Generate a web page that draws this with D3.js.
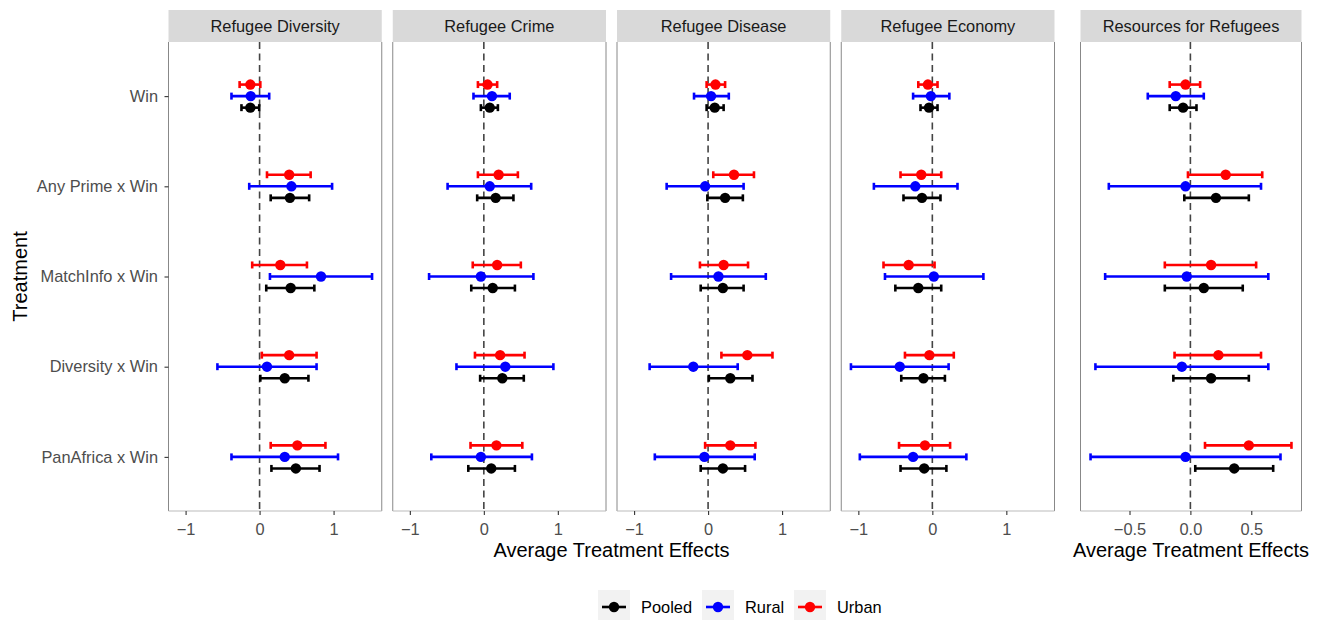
<!DOCTYPE html>
<html>
<head>
<meta charset="utf-8">
<script src="https://cdn.jsdelivr.net/npm/d3@7"></script>
<style>
  html, body { margin: 0; padding: 0; background: #fff; }
  svg { display: block; font-family: "Liberation Sans", Arial, Helvetica, sans-serif; }
</style>
</head>
<body>
<svg id="chart" width="1325" height="620"></svg>
<script>
// Treatment rows (top to bottom) and subsample groups
const treatments = ["Win", "Any Prime x Win", "MatchInfo x Win", "Diversity x Win", "PanAfrica x Win"];
const groups = ["Pooled", "Rural", "Urban"];
const groupColors = ["#000000", "#0000FF", "#FF0000"];
const outcomes = ["Refugee Diversity", "Refugee Crime", "Refugee Disease", "Refugee Economy", "Resources for Refugees"];

// Each entry: [estimate, lower CI, upper CI], in treatment order
const diversityPooled = [[-0.125, -0.245, -0.005], [0.41, 0.15, 0.67], [0.42, 0.09, 0.74], [0.34, 0.01, 0.66], [0.49, 0.16, 0.81]];
const diversityRural  = [[-0.12, -0.38, 0.13], [0.43, -0.14, 0.98], [0.83, 0.14, 1.52], [0.10, -0.57, 0.77], [0.34, -0.38, 1.06]];
const diversityUrban  = [[-0.125, -0.27, 0.01], [0.40, 0.10, 0.69], [0.28, -0.10, 0.64], [0.40, 0.03, 0.77], [0.51, 0.15, 0.89]];

const crimePooled = [[0.08, -0.04, 0.19], [0.16, -0.09, 0.40], [0.12, -0.17, 0.42], [0.25, -0.05, 0.54], [0.10, -0.21, 0.42]];
const crimeRural  = [[0.11, -0.14, 0.35], [0.08, -0.49, 0.64], [-0.04, -0.74, 0.67], [0.29, -0.37, 0.94], [-0.04, -0.71, 0.65]];
const crimeUrban  = [[0.05, -0.08, 0.18], [0.20, -0.08, 0.46], [0.18, -0.15, 0.50], [0.22, -0.12, 0.55], [0.17, -0.18, 0.52]];

const diseasePooled = [[0.09, -0.02, 0.21], [0.23, -0.01, 0.47], [0.20, -0.10, 0.48], [0.30, 0.01, 0.60], [0.20, -0.10, 0.50]];
const diseaseRural  = [[0.04, -0.19, 0.28], [-0.04, -0.56, 0.48], [0.14, -0.50, 0.78], [-0.20, -0.79, 0.40], [-0.05, -0.72, 0.63]];
const diseaseUrban  = [[0.10, -0.02, 0.23], [0.35, 0.07, 0.62], [0.21, -0.11, 0.54], [0.53, 0.18, 0.87], [0.30, -0.04, 0.64]];

const economyPooled = [[-0.045, -0.16, 0.07], [-0.14, -0.39, 0.11], [-0.19, -0.50, 0.12], [-0.12, -0.42, 0.17], [-0.11, -0.43, 0.19]];
const economyRural  = [[-0.02, -0.26, 0.23], [-0.23, -0.79, 0.34], [0.02, -0.64, 0.69], [-0.44, -1.10, 0.22], [-0.26, -0.98, 0.46]];
const economyUrban  = [[-0.06, -0.19, 0.07], [-0.15, -0.43, 0.12], [-0.32, -0.66, 0.03], [-0.04, -0.37, 0.29], [-0.10, -0.45, 0.24]];

const resourcesPooled = [[-0.06, -0.17, 0.05], [0.21, -0.05, 0.48], [0.11, -0.21, 0.43], [0.17, -0.14, 0.48], [0.36, 0.04, 0.68]];
const resourcesRural  = [[-0.12, -0.35, 0.11], [-0.04, -0.67, 0.58], [-0.03, -0.70, 0.64], [-0.07, -0.78, 0.64], [-0.04, -0.82, 0.74]];
const resourcesUrban  = [[-0.04, -0.17, 0.08], [0.29, -0.02, 0.59], [0.17, -0.21, 0.54], [0.23, -0.13, 0.58], [0.48, 0.12, 0.83]];

const sharedTicks = [-1, 0, 1];
const resourcesTicks = [-0.5, 0, 0.5];

// Assemble long-format rows per outcome panel
const panelSeries = [
  [diversityPooled, diversityRural, diversityUrban],
  [crimePooled, crimeRural, crimeUrban],
  [diseasePooled, diseaseRural, diseaseUrban],
  [economyPooled, economyRural, economyUrban],
  [resourcesPooled, resourcesRural, resourcesUrban]
];
const panelRows = panelSeries.map(series => {
  const rows = [];
  series.forEach((vals, gi) => {
    vals.forEach((v, ti) => rows.push({ treatment: treatments[ti], group: groups[gi], est: v[0], lo: v[1], hi: v[2] }));
  });
  return rows;
});

const svg = d3.select("#chart");
const labelSize = 16.4;

// Layout
const panelTop = 42, panelBottom = 511, stripTop = 10;
const leftEdge = 168.5, rightEdge4 = 1054.5, gap = 11;
const panelW = (rightEdge4 - leftEdge - 3 * gap) / 4;
const panelBoxes = [0, 1, 2, 3].map(i => ({ x0: leftEdge + i * (panelW + gap), x1: leftEdge + i * (panelW + gap) + panelW }));
panelBoxes.push({ x0: 1080.5, x1: 1301.5 });

// Expanded continuous domain (5% each side)
function expandedDomain(rows) {
  const mn = d3.min(rows, d => d.lo), mx = d3.max(rows, d => d.hi);
  const pad = (mx - mn) * 0.05;
  return [mn - pad, mx + pad];
}
const sharedDomain = expandedDomain(panelRows.slice(0, 4).flat());
const resourcesDomain = expandedDomain(panelRows[4]);

const y = d3.scalePoint().domain(treatments).range([panelTop, panelBottom]).padding(0.6);
const dodge = d3.scalePoint().domain(["Urban", "Rural", "Pooled"]).range([-0.128 * y.step(), 0.128 * y.step()]);
const color = d3.scaleOrdinal().domain(groups).range(groupColors);

const fmtShared = d3.format("d");
const fmtRes = d3.format(".1f");

panelBoxes.forEach((box, pi) => {
  const isRes = pi === 4;
  const x = d3.scaleLinear().domain(isRes ? resourcesDomain : sharedDomain).range([box.x0, box.x1]);
  const g = svg.append("g");

  // strip
  g.append("rect").attr("x", box.x0).attr("y", stripTop).attr("width", box.x1 - box.x0).attr("height", panelTop - stripTop).attr("fill", "#D9D9D9");
  g.append("text").attr("x", (box.x0 + box.x1) / 2).attr("y", (stripTop + panelTop) / 2 + 5.8)
    .attr("text-anchor", "middle").attr("font-size", labelSize).attr("fill", "#1A1A1A").text(outcomes[pi]);

  // zero reference
  g.append("line").attr("x1", x(0)).attr("x2", x(0)).attr("y1", panelTop).attr("y2", panelBottom)
    .attr("stroke", "#444").attr("stroke-width", 1.6).attr("stroke-dasharray", "7,4.5");

  // error bars and points
  const rows = panelRows[pi];
  const marks = g.append("g").selectAll("g").data(rows).join("g")
    .attr("transform", d => `translate(0,${y(d.treatment) + dodge(d.group)})`);
  marks.append("line").attr("x1", d => x(d.lo)).attr("x2", d => x(d.hi)).attr("y1", 0).attr("y2", 0)
    .attr("stroke", d => color(d.group)).attr("stroke-width", 2.6);
  marks.append("line").attr("x1", d => x(d.lo)).attr("x2", d => x(d.lo)).attr("y1", -3.5).attr("y2", 3.5)
    .attr("stroke", d => color(d.group)).attr("stroke-width", 2.6);
  marks.append("line").attr("x1", d => x(d.hi)).attr("x2", d => x(d.hi)).attr("y1", -3.5).attr("y2", 3.5)
    .attr("stroke", d => color(d.group)).attr("stroke-width", 2.6);
  marks.append("circle").attr("cx", d => x(d.est)).attr("cy", 0).attr("r", 5.2).attr("fill", d => color(d.group));

  // panel border
  g.append("line").attr("x1", box.x0).attr("x2", box.x0).attr("y1", panelTop).attr("y2", panelBottom).attr("stroke", "#888").attr("stroke-width", 1);
  g.append("line").attr("x1", box.x1).attr("x2", box.x1).attr("y1", panelTop).attr("y2", panelBottom).attr("stroke", "#888").attr("stroke-width", 1);
  g.append("line").attr("x1", box.x0).attr("x2", box.x1).attr("y1", panelBottom).attr("y2", panelBottom).attr("stroke", "#BBB").attr("stroke-width", 1);

  // x axis
  const ax = g.append("g").attr("transform", `translate(0,${panelBottom})`)
    .call(d3.axisBottom(x).tickValues(isRes ? resourcesTicks : sharedTicks).tickFormat(isRes ? fmtRes : fmtShared).tickSize(4).tickPadding(8));
  ax.select(".domain").remove();
  ax.selectAll(".tick line").attr("stroke", "#333").attr("stroke-width", 1.1);
  ax.selectAll(".tick text").attr("font-size", labelSize).attr("fill", "#4D4D4D").attr("font-family", null);

  // y axis on first panel
  if (pi === 0) {
    const ay = g.append("g").attr("transform", `translate(${box.x0},0)`)
      .call(d3.axisLeft(y).tickSize(4).tickPadding(6.5));
    ay.select(".domain").remove();
    ay.selectAll(".tick line").attr("stroke", "#333").attr("stroke-width", 1.1);
    ay.selectAll(".tick text").attr("font-size", labelSize).attr("fill", "#4D4D4D").attr("font-family", null);
  }
});

// Axis titles
svg.append("text").attr("x", (panelBoxes[0].x0 + panelBoxes[3].x1) / 2).attr("y", 557)
  .attr("text-anchor", "middle").attr("font-size", 20).attr("fill", "#000").text("Average Treatment Effects");
svg.append("text").attr("x", (panelBoxes[4].x0 + panelBoxes[4].x1) / 2).attr("y", 557)
  .attr("text-anchor", "middle").attr("font-size", 20).attr("fill", "#000").text("Average Treatment Effects");
svg.append("text").attr("transform", `translate(27,${(panelTop + panelBottom) / 2}) rotate(-90)`)
  .attr("text-anchor", "middle").attr("font-size", 20).attr("fill", "#000").text("Treatment");

// Legend
const legendX = [598, 702, 794];
const legend = svg.append("g").selectAll("g").data(groups).join("g")
  .attr("transform", (d, i) => `translate(${legendX[i]},590)`);
legend.append("rect").attr("width", 32).attr("height", 32).attr("fill", "#F2F2F2");
legend.append("line").attr("x1", 4).attr("x2", 28).attr("y1", 17).attr("y2", 17)
  .attr("stroke", d => color(d)).attr("stroke-width", 2.6);
legend.append("circle").attr("cx", 16).attr("cy", 17).attr("r", 5.2).attr("fill", d => color(d));
legend.append("text").attr("x", 43).attr("y", 22.5).attr("font-size", labelSize).attr("fill", "#000").text(d => d);
</script>
</body>
</html>
